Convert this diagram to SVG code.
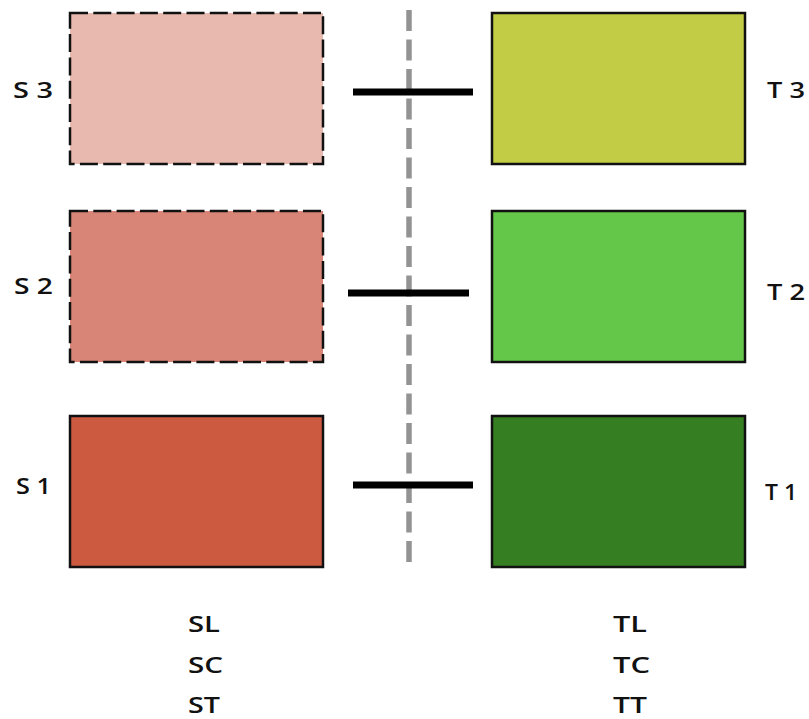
<svg xmlns="http://www.w3.org/2000/svg" width="809" height="719" viewBox="0 0 809 719">
  <style>
    .box { stroke: #111; stroke-width: 2.5; }
    .dashed { stroke-dasharray: 18 5.3; }
    .lbl { font-family: "Open Sans", "Lato", sans-serif; font-weight: 600; font-size: 21px; fill: #111; }
    .bar { stroke: #000; stroke-width: 7; }
  </style>
  <rect width="809" height="719" fill="#fff"/>

  <!-- divider and links -->
  <g id="connectors">
    <line x1="409" y1="10" x2="409" y2="569" stroke="#939393" stroke-width="5.5" stroke-dasharray="21 8.5"/>
    <line class="bar" x1="353" y1="92" x2="473" y2="92"/>
    <line class="bar" x1="348" y1="293" x2="469" y2="293"/>
    <line class="bar" x1="353" y1="485" x2="473" y2="485"/>
  </g>

  <g id="S3">
    <rect class="box dashed" x="70" y="13" width="253" height="151" fill="#E8B9AE"/>
    <text class="lbl" x="13" y="98" textLength="40" lengthAdjust="spacingAndGlyphs">S 3</text>
  </g>
  <g id="S2">
    <rect class="box dashed" x="70" y="211" width="253" height="151" fill="#D88577"/>
    <text class="lbl" x="14" y="294" textLength="39" lengthAdjust="spacingAndGlyphs">S 2</text>
  </g>
  <g id="S1">
    <rect class="box" x="70" y="416" width="253" height="151" fill="#CC5A40"/>
    <text class="lbl" x="16" y="494" textLength="35" lengthAdjust="spacingAndGlyphs">S 1</text>
  </g>

  <g id="T3">
    <rect class="box" x="492" y="13" width="253" height="151" fill="#C2CC44"/>
    <text class="lbl" x="767" y="98" textLength="38" lengthAdjust="spacingAndGlyphs">T 3</text>
  </g>
  <g id="T2">
    <rect class="box" x="492" y="211" width="253" height="151" fill="#64C74A"/>
    <text class="lbl" x="767" y="300" textLength="38" lengthAdjust="spacingAndGlyphs">T 2</text>
  </g>
  <g id="T1">
    <rect class="box" x="492" y="416" width="253" height="151" fill="#357F22"/>
    <text class="lbl" x="765" y="500" textLength="32" lengthAdjust="spacingAndGlyphs">T 1</text>
  </g>

  <g id="legend" class="lbl">
    <text x="188" y="632" textLength="32" lengthAdjust="spacingAndGlyphs">SL</text>
    <text x="188" y="673" textLength="35" lengthAdjust="spacingAndGlyphs">SC</text>
    <text x="188" y="713" textLength="32" lengthAdjust="spacingAndGlyphs">ST</text>
    <text x="613" y="632" textLength="34" lengthAdjust="spacingAndGlyphs">TL</text>
    <text x="613" y="673" textLength="37" lengthAdjust="spacingAndGlyphs">TC</text>
    <text x="613" y="713" textLength="34" lengthAdjust="spacingAndGlyphs">TT</text>
  </g>
</svg>
